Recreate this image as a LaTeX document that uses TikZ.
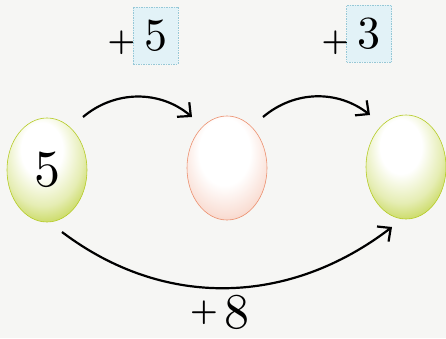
\documentclass[tikz,border=0pt]{standalone}
\usepackage{fontspec}
\newfontfamily\numfont{lmroman10-regular}[Extension=.otf]
\newfontfamily\plusfont{lmroman10-bold}[Extension=.otf]
\usetikzlibrary{shapes.geometric,arrows.meta,calc}
\definecolor{bg}{RGB}{246,246,244}
\definecolor{gG}{RGB}{182,204,40}
\definecolor{rR}{RGB}{236,145,112}
\definecolor{boxF}{RGB}{226,242,247}
\definecolor{boxD}{RGB}{150,200,215}
\pgfdeclareradialshading{eggG}{\pgfpoint{-4bp}{12bp}}{color(0bp)=(white); color(13bp)=(white); color(25bp)=(gG!35!white); color(33bp)=(gG!75!white); color(41bp)=(gG); color(70bp)=(gG)}
\pgfdeclareradialshading{eggR}{\pgfpoint{-2bp}{10bp}}{color(0bp)=(white); color(16bp)=(white); color(29bp)=(rR!30!white); color(38bp)=(rR!65!white); color(46bp)=(rR); color(70bp)=(rR)}
\begin{document}
\begin{tikzpicture}[x=1pt,y=1pt,
  egg/.style={ellipse, inner sep=0pt, minimum width=80pt, minimum height=104pt, line width=0.6pt, font=\numfont\fontsize{52}{52}\selectfont},
  greenegg/.style={egg, shading=eggG, draw=gG},
  redegg/.style={egg, shading=eggR, draw=rR},
  plussign/.style={inner sep=0pt, font=\plusfont\fontsize{31}{31}\selectfont},
  bignum/.style={inner sep=0pt, font=\numfont\fontsize{50}{50}\selectfont},
  valbox/.style={fill=boxF, draw=boxD, line width=0.6pt, dash pattern=on 1.5pt off 1pt, minimum width=45pt, minimum height=57pt, inner sep=0pt, font=\numfont\fontsize{46}{46}\selectfont},
  arr/.style={line width=2.2pt, -{Straight Barb[length=10pt,width=19pt]}}]
\fill[bg] (0,0) rectangle (446,338);
\useasboundingbox (0,0) rectangle (446,338);
\node[greenegg] (L) at (47,168) {5};
\node[redegg] (M) at (227,170) {};
\node[greenegg] (R) at (406,171) {};
\coordinate (a1s) at ($(L.center)+(36,53)$);
\coordinate (a1e) at ($(M.center)+(-35,51)$);
\coordinate (a2s) at ($(M.center)+(36,51)$);
\coordinate (a2e) at ($(R.center)+(-36,52)$);
\coordinate (a3s) at ($(L.center)+(15,-62)$);
\coordinate (a3e) at ($(R.center)+(-14,-60)$);
\draw[arr] (a1s) .. controls (115,248) and (160,248) .. (a1e);
\draw[arr] (a2s) .. controls (295,248) and (338,248) .. (a2e);
\draw[arr] (a3s) .. controls (165,28) and (290,33) .. (a3e);
\node[plussign] (p1) at (121.5,295) {+};
\node[valbox] (b1) at (155.5,302.5) {5};
\node[plussign] (p2) at (335.5,295) {+};
\node[valbox] (b2) at (369,304) {3};
\node[plussign] (p3) at (204,25) {+};
\node[bignum] (n8) at (237,26) {8};
\end{tikzpicture}
\end{document}
